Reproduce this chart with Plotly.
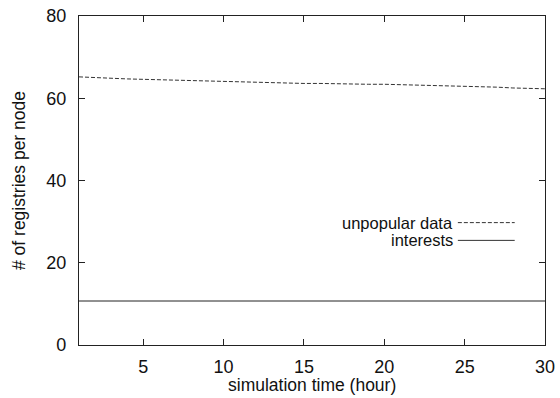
import plotly.graph_objects as go

hours = list(range(1, 31))
unpopular_data = [65.2, 65.0, 64.8, 64.7, 64.6, 64.5, 64.4, 64.3, 64.2, 64.0,
                  63.9, 63.8, 63.7, 63.7, 63.6, 63.6, 63.5, 63.5, 63.4, 63.4,
                  63.3, 63.3, 63.2, 63.1, 63.0, 62.9, 62.7, 62.5, 62.4, 62.3]
interests = [10.7] * 30
x_ticks = [5, 10, 15, 20, 25, 30]
y_ticks = [0, 20, 40, 60, 80]
series_names = ["unpopular data", "interests"]
x_title = "simulation time (hour)"
y_title = "# of registries per node"

FONT = "Liberation Sans, Arial, Helvetica, sans-serif"

fig = go.Figure()
fig.add_trace(go.Scatter(x=hours, y=unpopular_data, mode="lines", name=series_names[0],
                         line=dict(color="#333333", width=1, dash="4px,2px"), showlegend=False))
fig.add_trace(go.Scatter(x=hours, y=interests, mode="lines", name=series_names[1],
                         line=dict(color="#222222", width=1), showlegend=False))

# legend (gnuplot style: text right-aligned, key line on the right)
leg_y = [0.372, 0.318]
dashes = ["4px,2px", "solid"]
for name, yy, d in zip(series_names, leg_y, dashes):
    fig.add_annotation(xref="paper", yref="paper", x=0.806, y=yy, text=name,
                       showarrow=False, xanchor="right", yanchor="middle",
                       font=dict(family=FONT, size=16.5, color="#111"))
    fig.add_shape(type="line", xref="paper", yref="paper", x0=0.813, x1=0.935, y0=yy, y1=yy,
                  line=dict(color="#333333", width=1, dash=d))

# x-axis title placed like gnuplot's
fig.add_annotation(xref="paper", yref="paper", x=0.5, y=0, yshift=-52,
                   text=x_title, showarrow=False, xanchor="center", yanchor="bottom",
                   font=dict(family=FONT, size=17.5, color="#111"))

fig.update_layout(
    width=560, height=398,
    margin=dict(l=79, r=15, t=16, b=53),
    paper_bgcolor="white", plot_bgcolor="white",
    font=dict(family=FONT, size=18, color="#111"),
    xaxis=dict(range=[1, 30], tickvals=x_ticks, ticks="inside", ticklen=6,
               showline=True, linecolor="#222", linewidth=1.3, mirror="ticks",
               showgrid=False, zeroline=False, tickcolor="#222", automargin=False,
               ticklabelstandoff=5),
    yaxis=dict(range=[0, 80], tickvals=y_ticks, ticks="inside", ticklen=6,
               showline=True, linecolor="#222", linewidth=1.3, mirror="ticks",
               showgrid=False, zeroline=False, tickcolor="#222", automargin=False,
               ticklabelstandoff=8,
               title=dict(text=y_title, font=dict(size=17.5), standoff=16)),
)

fig.write_html("out.html")
